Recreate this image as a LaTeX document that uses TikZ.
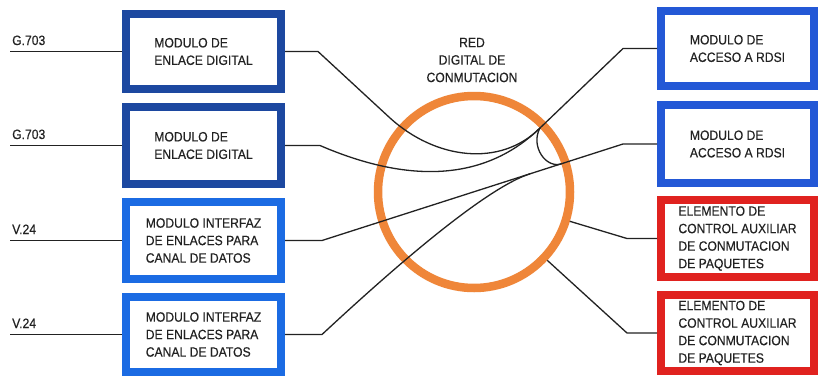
\documentclass[tikz,border=0pt]{standalone}
\usepackage{fontspec}
\setmainfont{Liberation Sans}[FakeStretch=0.9,FakeBold=0.4]
\definecolor{navyblue}{HTML}{1C48A0}
\definecolor{brightblue}{HTML}{1B6BE3}
\definecolor{rdsiblue}{HTML}{2358D6}
\definecolor{auxred}{HTML}{E0221F}
\definecolor{ringorange}{HTML}{EF8639}
\definecolor{ink}{HTML}{222222}
\begin{document}
\begin{tikzpicture}[x=1pt,y=-1pt,
  every node/.style={text=ink, font=\fontsize{13.5}{17.5}\selectfont},
  modbox/.style={draw, rectangle, line width=8pt, fill=white, align=left, inner sep=0pt},
  leftbox/.style={modbox, minimum width=155pt},
  rightbox/.style={modbox, minimum width=153pt},
  wire/.style={draw=ink, line width=1.3pt, line join=round},
  portlabel/.style={anchor=base west, inner sep=0pt}]
\useasboundingbox[fill=white] (0,0) rectangle (819,375);

% switching network ring and its caption
\node[circle, draw=ringorange, line width=8.5pt, minimum size=192pt, inner sep=0pt] (ring) at (474,192) {};
\node[align=center, inner sep=0pt] (title) at (472,60) {RED\\DIGITAL DE\\CONMUTACION};

% line interface modules
\node[leftbox, draw=navyblue, minimum height=75pt] (L1) at (203.5,51.5) {MODULO DE\\ENLACE DIGITAL};
\node[leftbox, draw=navyblue, minimum height=77pt] (L2) at (203.5,145.5) {MODULO DE\\ENLACE DIGITAL};
\node[leftbox, draw=brightblue, minimum height=77pt] (L3) at (203.5,240.5) {MODULO INTERFAZ\\DE ENLACES PARA\\CANAL DE DATOS};
\node[leftbox, draw=brightblue, minimum height=75pt] (L4) at (203.5,334.5) {MODULO INTERFAZ\\DE ENLACES PARA\\CANAL DE DATOS};

\node[rightbox, draw=rdsiblue, minimum height=75pt] (R1) at (737.5,48.5) {MODULO DE\\ACCESO A RDSI};
\node[rightbox, draw=rdsiblue, minimum height=78pt] (R2) at (737.5,144) {MODULO DE\\ACCESO A RDSI};
\node[rightbox, draw=auxred, minimum height=77pt] (R3) at (737.5,238.5) {ELEMENTO DE\\CONTROL AUXILIAR\\DE CONMUTACION\\DE PAQUETES};
\node[rightbox, draw=auxred, minimum height=76pt] (R4) at (737.5,333) {ELEMENTO DE\\CONTROL AUXILIAR\\DE CONMUTACION\\DE PAQUETES};

% external ports
\coordinate (in1) at (10,51.5);
\coordinate (in2) at (10,145.5);
\coordinate (in3) at (10,240.5);
\coordinate (in4) at (10,334.5);
\node[portlabel] (p1) at (12,45) {G.703};
\node[portlabel] (p2) at (12,139) {G.703};
\node[portlabel] (p3) at (12,234) {V.24};
\node[portlabel] (p4) at (12,328) {V.24};
\draw[wire] (in1) -- (L1.west);
\draw[wire] (in2) -- (L2.west);
\draw[wire] (in3) -- (L3.west);
\draw[wire] (in4) -- (L4.west);

% paths through the network
\coordinate (m1) at (540,128);
\coordinate (m2) at (562,163.6);
\coordinate (m3) at (530,173.8);
\draw[wire] (L1.east) -- (318,51.5) -- (390,118)
  .. controls (435,159) and (500,168) .. (m1) -- (623,48.5) -- (R1.west);
\draw[wire] (L2.east) -- (320,145.5)
  .. controls (400,180) and (480,186) .. (m1);
\draw[wire] (m1) .. controls (530,146) and (546,169.5) .. (m2);
\draw[wire] (L3.east) -- (322,240.5) -- (623,144) -- (R2.west);
\draw[wire] (L4.east) -- (322,334.5)
  .. controls (372,288) and (480,189.8) .. (m3);
\draw[wire] (R3.west) -- (627,238.5) -- (ring.-17.4);
\draw[wire] (R4.west) -- (627,333) -- (ring.-43.4);
\end{tikzpicture}
\end{document}
